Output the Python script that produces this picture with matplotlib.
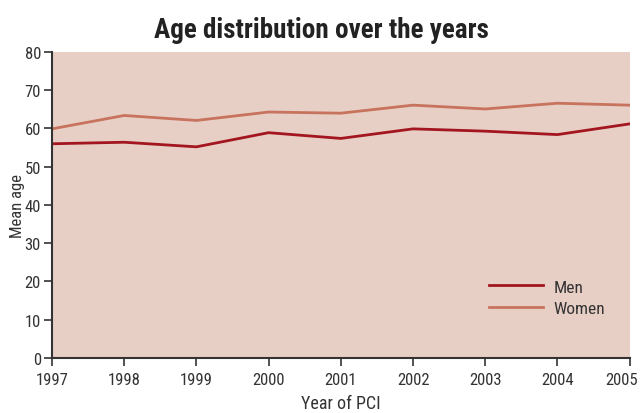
import matplotlib
matplotlib.use("Agg")
import matplotlib.pyplot as plt
import matplotlib.transforms as mtransforms
from matplotlib import font_manager

names = {f.name for f in font_manager.fontManager.ttflist}
fam = 'DejaVu Sans'
for cand in ['Roboto Condensed', 'Barlow Condensed', 'Archivo Narrow', 'PT Sans Narrow', 'Liberation Sans']:
    if cand in names:
        fam = cand
        break
plt.rcParams['font.family'] = [fam, 'DejaVu Sans']

years = [1997, 1998, 1999, 2000, 2001, 2002, 2003, 2004, 2005]
men = [56.0, 56.4, 55.2, 58.9, 57.4, 59.9, 59.3, 58.4, 61.2]
women = [59.9, 63.4, 62.1, 64.3, 64.0, 66.1, 65.1, 66.6, 66.1]
yticks = [0, 10, 20, 30, 40, 50, 60, 70, 80]

fig = plt.figure(figsize=(6.4, 4.14), dpi=100)
ax = fig.add_axes([0.08125, 0.133, 0.9025, 0.739])
ax.set_facecolor('#e8cfc6')
ax.plot(years, men, color='#a3161f', lw=2, label='Men')
ax.plot(years, women, color='#c8735e', lw=2, label='Women')
ax.set_xlim(1997, 2005)
ax.set_ylim(0, 80)
ax.set_xticks(years)
ax.set_yticks(yticks)
ax.tick_params(labelsize=12, colors='#333333', length=6, width=1.2, pad=2)
ax.tick_params(axis='x', pad=4)
for s in ['top', 'right']:
    ax.spines[s].set_visible(False)
for s in ['left', 'bottom']:
    ax.spines[s].set_color('#333333')
    ax.spines[s].set_linewidth(1.5)
ax.set_xlabel('Year of PCI', fontsize=13, color='#333333', labelpad=5)
ax.set_ylabel('Mean age', fontsize=12, color='#333333')
ax.yaxis.set_label_coords(-0.047, 0.5)
ax.set_title('Age distribution over the years', fontsize=19.5, fontweight='bold', color='#222222',
             pad=11, x=0.467)
leg = ax.legend(loc='lower right', bbox_to_anchor=(0.985, 0.085), frameon=False, fontsize=12.5,
                handlelength=3.1, labelspacing=0.38, handletextpad=0.6)
for t in leg.get_texts():
    t.set_color('#333333')

fig.canvas.draw()
last = ax.get_xticklabels()[-1]
last.set_horizontalalignment('right')
last.set_transform(last.get_transform() + mtransforms.ScaledTranslation(8 / 100, 0, fig.dpi_scale_trans))
fig.savefig('out.png', dpi=100)
